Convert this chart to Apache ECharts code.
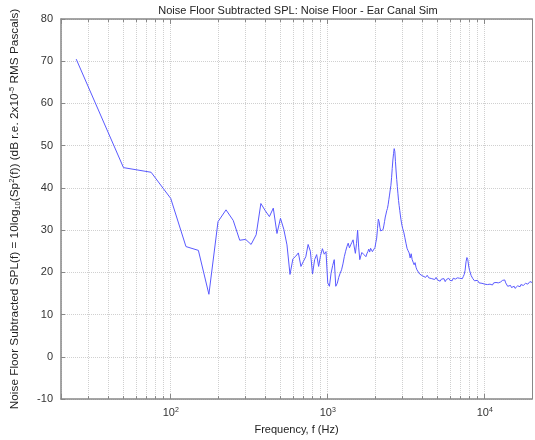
<!DOCTYPE html>
<html>
<head>
<meta charset="utf-8">
<script src="https://cdn.jsdelivr.net/npm/echarts@6/dist/echarts.min.js"></script>
<style>
  html, body { margin: 0; padding: 0; background: #fff; }
  #chart { width: 535px; height: 440px; }
</style>
</head>
<body>
<div id="chart"></div>
<script>
// frequency bins (Hz)
var freqHz = [
  25, 50, 75, 100, 125, 150, 175, 200, 225, 250, 275, 300, 325, 350, 375, 400, 425, 450, 475, 500,
  525, 550, 575, 600, 625, 650, 675, 700, 725, 750, 775, 800, 825, 850, 875, 900, 925, 950, 975, 1000,
  1025, 1050, 1075, 1100, 1125, 1150, 1175, 1200, 1225, 1250, 1275, 1300, 1325, 1350, 1375, 1400, 1425, 1450, 1475, 1500,
  1525, 1550, 1575, 1600, 1625, 1650, 1675, 1700, 1725, 1750, 1775, 1800, 1825, 1850, 1875, 1900, 1925, 1950, 1975, 2000,
  2025, 2050, 2075, 2100, 2125, 2150, 2175, 2200, 2225, 2250, 2275, 2300, 2325, 2350, 2375, 2400, 2425, 2450, 2475, 2500,
  2525, 2550, 2575, 2600, 2625, 2650, 2675, 2700, 2725, 2750, 2775, 2800, 2825, 2850, 2875, 2900, 2925, 2950, 2975, 3000,
  3050, 3100, 3150, 3200, 3250, 3300, 3350, 3400, 3450, 3500, 3550, 3600, 3650, 3700, 3750, 3800, 3850, 3900, 3950, 4000,
  4100, 4200, 4300, 4400, 4500, 4600, 4700, 4800, 4900, 5000, 5100, 5200, 5300, 5400, 5500, 5600, 5700, 5800, 5900, 6000,
  6100, 6200, 6300, 6400, 6500, 6600, 6700, 6800, 6900, 7000, 7100, 7200, 7300, 7400, 7500, 7600, 7700, 7800, 7900, 8000,
  8200, 8400, 8600, 8800, 9000, 9200, 9400, 9600, 9800, 10000, 10200, 10400, 10600, 10800, 11000, 11200, 11400, 11600, 11800, 12000,
  12200, 12400, 12600, 12800, 13000, 13200, 13400, 13600, 13800, 14000, 14200, 14400, 14600, 14800, 15000, 15200, 15400, 15600, 15800, 16000,
  16200, 16400, 16600, 16800, 17000, 17200, 17400, 17600, 17800, 18000, 18200, 18400, 18600, 18800, 19000, 19200, 19400, 19600, 19800, 20000
];

// noise floor subtracted SPL (dB)
var splDb = [
  70.5, 44.8, 43.7, 37.5, 26.1, 25.2, 14.8, 32.0, 34.8, 32.3, 27.6, 27.8, 26.6, 28.9, 36.3, 34.6, 33.2, 35.2, 29.2, 32.8,
  30.2, 26.5, 19.5, 23.2, 23.8, 24.6, 21.4, 22.6, 23.7, 26.6, 25.0, 19.6, 23.0, 24.2, 21.4, 24.0, 25.6, 24.3, 24.9, 17.5,
  16.7, 19.8, 21.6, 23.0, 16.7, 17.4, 18.8, 19.8, 20.6, 22.0, 23.7, 25.0, 26.1, 26.9, 25.8, 26.5, 27.1, 27.7, 26.0, 24.5,
  26.8, 30.0, 25.8, 23.0, 23.9, 24.7, 24.9, 24.2, 23.9, 23.7, 24.4, 24.9, 25.5, 24.8, 25.7, 25.4, 24.9, 25.3, 24.9, 25.9,
  27.1, 28.1, 30.4, 32.6, 32.0, 30.6, 29.8, 29.5, 29.7, 30.1, 31.0, 32.0, 33.1, 33.8, 34.6, 35.1, 36.0, 37.2, 38.3, 39.5,
  40.6, 42.4, 44.6, 46.6, 48.1, 49.3, 48.6, 46.2, 44.0, 42.0, 40.3, 38.6, 37.0, 35.8, 34.7, 33.6, 32.6, 31.7, 31.0, 30.4,
  29.5, 28.2, 26.9, 25.7, 25.1, 24.6, 23.4, 24.4, 23.0, 22.4, 21.8, 22.3, 21.2, 20.6, 20.2, 20.8, 19.6, 19.4, 19.9, 19.2,
  19.6, 18.8, 19.3, 18.7, 19.1, 18.5, 18.9, 18.3, 18.8, 18.2, 18.6, 17.9, 18.4, 18.0, 18.5, 17.8, 18.3, 18.0, 18.6, 18.1,
  18.5, 18.0, 18.6, 18.2, 18.4, 18.1, 18.7, 18.3, 18.6, 18.4, 18.9, 18.5, 19.0, 19.5, 20.5, 22.5, 23.5, 23.0, 21.5, 20.5,
  19.2, 18.5, 18.0, 17.6, 18.1, 17.5, 17.9, 17.4, 17.8, 17.2, 17.6, 17.1, 17.5, 17.2, 17.6, 17.0, 17.5, 17.1, 17.6, 17.2,
  17.5, 17.1, 17.7, 17.6, 18.1, 17.8, 18.2, 17.5, 17.2, 16.7, 17.0, 16.5, 16.9, 16.4, 16.8, 16.3, 16.7, 16.2, 16.6, 16.4,
  16.8, 16.5, 16.9, 16.6, 17.1, 16.7, 17.2, 16.9, 17.3, 17.0, 17.4, 17.1, 17.5, 17.2, 17.6, 17.4, 17.8, 17.5, 17.9, 17.6
];

// minor grid lines of the log axis
var minorFreqs = [30, 40, 50, 60, 70, 80, 90, 200, 300, 400, 500, 600, 700, 800, 900,
                  2000, 3000, 4000, 5000, 6000, 7000, 8000, 9000];

var yTicks = [-10, 0, 10, 20, 30, 40, 50, 60, 70, 80];

var lineData = [];
for (var i = 0; i < freqHz.length; i++) {
  lineData.push([freqHz[i], splDb[i]]);
}

var gridLines = [];
var tickMarks = [];
for (var j = 0; j < minorFreqs.length; j++) {
  gridLines.push({ xAxis: minorFreqs[j] });
  tickMarks.push([{ coord: [minorFreqs[j], -10] }, { coord: [minorFreqs[j], -9.3] }]);
  tickMarks.push([{ coord: [minorFreqs[j], 80] }, { coord: [minorFreqs[j], 79.3] }]);
}

var supRich = {
  sup: { fontSize: 7, verticalAlign: 'top', lineHeight: 8, color: '#333', fontFamily: 'Liberation Sans' }
};

var chart = echarts.init(document.getElementById('chart'));
chart.setOption({
  animation: false,
  backgroundColor: '#fff',
  title: {
    text: 'Noise Floor Subtracted SPL: Noise Floor - Ear Canal Sim',
    left: 293, textAlign: 'center', top: 0,
    textStyle: { fontSize: 11, fontWeight: 'normal', color: '#222', fontFamily: 'Liberation Sans' }
  },
  grid: { left: 53, right: -4, top: 19, bottom: 38 },
  xAxis: [{
    type: 'log', logBase: 10, min: 20, max: 20000,
    position: 'bottom',
    name: 'Frequency, f (Hz)',
    nameLocation: 'middle', nameGap: 25,
    nameTextStyle: { fontSize: 11, color: '#222', fontFamily: 'Liberation Sans' },
    axisLine: { onZero: false, lineStyle: { color: '#888', width: 1.5 } },
    axisTick: { inside: true, length: 5, lineStyle: { color: '#888' } },
    axisLabel: {
      margin: 8, color: '#333', fontSize: 11, fontFamily: 'Liberation Sans',
      formatter: function (v) {
        var e = Math.round(Math.log(v) / Math.LN10);
        if (Math.abs(Math.pow(10, e) - v) > 1e-6 * v) return '';
        return '10{sup|' + e + '}';
      },
      rich: supRich
    },
    splitLine: { show: true, lineStyle: { color: '#d0d0d0', type: 'dotted', width: 1 } }
  }, {
    type: 'log', logBase: 10, min: 20, max: 20000,
    position: 'top',
    axisLine: { onZero: false, lineStyle: { color: '#888', width: 1.5 } },
    axisTick: { inside: true, length: 5, lineStyle: { color: '#888' } },
    axisLabel: { show: false },
    splitLine: { show: false }
  }],
  yAxis: [{
    type: 'value', min: -10, max: 80, interval: 10,
    name: 'Noise Floor Subtracted SPL(f) = 10log{sub|10}(Sp{sup|2}(f)) (dB r.e. 2x10{sup|-5} RMS Pascals)',
    nameLocation: 'middle', nameRotate: 90, nameGap: 39,
    nameTextStyle: {
      fontSize: 11.8, color: '#222', fontFamily: 'Liberation Sans', lineHeight: 14,
      rich: {
        sup: { fontSize: 7.5, verticalAlign: 'top', lineHeight: 7, color: '#222', fontFamily: 'Liberation Sans' },
        sub: { fontSize: 7.5, verticalAlign: 'bottom', lineHeight: 7, color: '#222', fontFamily: 'Liberation Sans' }
      }
    },
    axisLine: { show: true, onZero: false, lineStyle: { color: '#888', width: 1.5 } },
    axisTick: { inside: true, length: 4, lineStyle: { color: '#888' } },
    axisLabel: {
      color: '#333', fontSize: 11, fontFamily: 'Liberation Sans', margin: 8,
      formatter: function (v) { return yTicks.indexOf(v) >= 0 ? String(v) : ''; }
    },
    splitLine: { show: true, lineStyle: { color: '#d0d0d0', type: 'dotted', width: 1 } }
  }, {
    type: 'value', min: -10, max: 80, interval: 10, position: 'right',
    axisLine: { show: true, onZero: false, lineStyle: { color: '#888' } },
    axisTick: { show: false }, axisLabel: { show: false }, splitLine: { show: false }
  }],
  series: [{
    type: 'line',
    xAxisIndex: 0, yAxisIndex: 0,
    data: [],
    markLine: {
      silent: true, symbol: 'none', animation: false,
      label: { show: false },
      lineStyle: { color: '#d0d0d0', type: 'dotted', width: 1 },
      data: gridLines
    }
  }, {
    type: 'line',
    xAxisIndex: 0, yAxisIndex: 0,
    data: [],
    markLine: {
      silent: true, symbol: 'none', animation: false,
      label: { show: false },
      lineStyle: { color: '#888', type: 'solid', width: 1 },
      data: tickMarks
    }
  }, {
    name: 'SPL',
    type: 'line',
    xAxisIndex: 0, yAxisIndex: 0,
    data: lineData,
    showSymbol: false,
    symbol: 'none',
    lineStyle: { color: '#5a5aff', width: 1 },
    z: 5
  }]
});
</script>
</body>
</html>
